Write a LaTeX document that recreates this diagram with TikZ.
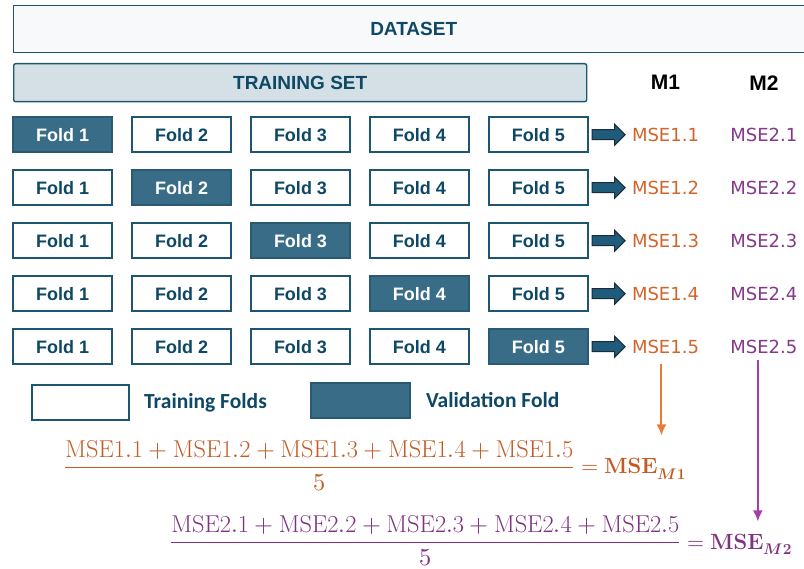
\documentclass[tikz,border=0pt]{standalone}
\usepackage{unicode-math}
\usetikzlibrary{positioning,shapes.arrows,arrows.meta}

\newfontfamily\boxfont{Liberation Sans}
\newfontfamily\legendfont{Carlito}
\newfontfamily\msefont{DejaVu Sans}

\definecolor{foldline}{HTML}{1E5672}
\definecolor{foldtext}{HTML}{0E4865}
\definecolor{valfill}{HTML}{396D87}
\definecolor{valline}{HTML}{2A5A73}
\definecolor{tsfill}{HTML}{D4E0E6}
\definecolor{dsfill}{HTML}{F8F9FB}
\definecolor{arrowfill}{HTML}{1F5C7B}
\definecolor{arrowline}{HTML}{1B2B38}
\definecolor{mseone}{HTML}{D2642A}
\definecolor{msetwo}{HTML}{86388A}
\definecolor{linkone}{HTML}{EC7A34}
\definecolor{linktwo}{HTML}{A33FA8}
\definecolor{eqone}{HTML}{C45A22}
\definecolor{eqtwo}{HTML}{7E3281}

\tikzstyle{trainfold}=[rectangle,
                        line width=1.6pt,
                        draw=foldline,
                        fill=white,
                        minimum width=99pt,
                        minimum height=35pt,
                        inner sep=0pt,
                        text=foldtext,
                        font=\boxfont\bfseries\fontsize{18}{20}\selectfont]
\tikzstyle{valfold}=[trainfold,
                        draw=valline,
                        fill=valfill,
                        text=white]
\tikzstyle{setbox}=[rectangle,
                        line width=1.4pt,
                        draw=foldline,
                        inner sep=0pt,
                        text=foldtext,
                        font=\boxfont\bfseries\fontsize{19}{21}\selectfont]
\tikzstyle{blockarrow}=[single arrow,
                        line width=1pt,
                        draw=arrowline,
                        fill=arrowfill,
                        minimum height=33pt,
                        minimum width=20pt,
                        single arrow head extend=5.5pt,
                        single arrow head indent=0pt,
                        inner sep=4.5pt]
\tikzstyle{mseA}=[inner sep=0pt, text=mseone,
                        font=\msefont\fontsize{18}{20}\selectfont]
\tikzstyle{mseB}=[inner sep=0pt, text=msetwo,
                        font=\msefont\fontsize{18}{20}\selectfont]
\tikzstyle{header}=[inner sep=0pt,
                        font=\boxfont\bfseries\fontsize{21}{23}\selectfont]
\tikzstyle{legendtext}=[inner sep=0pt, text=foldtext,
                        font=\legendfont\bfseries\fontsize{21.5}{24}\selectfont]
\tikzstyle{equation}=[inner sep=0pt,
                        font=\fontsize{24.4}{29}\selectfont]
\tikzstyle{result}=[inner sep=0pt,
                        font=\fontsize{22}{26}\selectfont]

\begin{document}
\begin{tikzpicture}[x=1pt,y=-1pt,>={Latex[length=11pt,width=10pt]}]
  \useasboundingbox (0,0) rectangle (804,569);

  % Whole data and the training part of it:
  \node (DS) [setbox, fill=dsfill, minimum width=800pt, minimum height=47pt,
              anchor=north west] at (13,5) {DATASET};
  \node (TS) [setbox, fill=tsfill, rounded corners=2pt, minimum width=573pt,
              minimum height=38pt, anchor=north west] at (13,63) {TRAINING SET};

  % The five splits are placed using a matrix:
  \matrix (folds) [row sep=16.4pt, column sep=18.3pt, inner sep=0pt,
                   anchor=north west] at (12.2,116.2) {
        \node (F11) [valfold] {Fold 1};   &
        \node (F12) [trainfold] {Fold 2}; &
        \node (F13) [trainfold] {Fold 3}; &
        \node (F14) [trainfold] {Fold 4}; &
        \node (F15) [trainfold] {Fold 5};
        \\
        \node (F21) [trainfold] {Fold 1}; &
        \node (F22) [valfold] {Fold 2};   &
        \node (F23) [trainfold] {Fold 3}; &
        \node (F24) [trainfold] {Fold 4}; &
        \node (F25) [trainfold] {Fold 5};
        \\
        \node (F31) [trainfold] {Fold 1}; &
        \node (F32) [trainfold] {Fold 2}; &
        \node (F33) [valfold] {Fold 3};   &
        \node (F34) [trainfold] {Fold 4}; &
        \node (F35) [trainfold] {Fold 5};
        \\
        \node (F41) [trainfold] {Fold 1}; &
        \node (F42) [trainfold] {Fold 2}; &
        \node (F43) [trainfold] {Fold 3}; &
        \node (F44) [valfold] {Fold 4};   &
        \node (F45) [trainfold] {Fold 5};
        \\
        \node (F51) [trainfold] {Fold 1}; &
        \node (F52) [trainfold] {Fold 2}; &
        \node (F53) [trainfold] {Fold 3}; &
        \node (F54) [trainfold] {Fold 4}; &
        \node (F55) [valfold] {Fold 5};
        \\
    };

  % Block arrows and the scores of both models:
  \node (A1) [blockarrow, right=3pt of F15] {};
  \node (A2) [blockarrow, right=3pt of F25] {};
  \node (A3) [blockarrow, right=3pt of F35] {};
  \node (A4) [blockarrow, right=3pt of F45] {};
  \node (A5) [blockarrow, right=3pt of F55] {};

  \node (E11) [mseA, right=6pt of A1] {MSE1.1};
  \node (E12) [mseA, right=6pt of A2] {MSE1.2};
  \node (E13) [mseA, right=6pt of A3] {MSE1.3};
  \node (E14) [mseA, right=6pt of A4] {MSE1.4};
  \node (E15) [mseA, right=6pt of A5] {MSE1.5};

  \node (E21) [mseB, right=31pt of E11] {MSE2.1};
  \node (E22) [mseB, right=31pt of E12] {MSE2.2};
  \node (E23) [mseB, right=31pt of E13] {MSE2.3};
  \node (E24) [mseB, right=31pt of E14] {MSE2.4};
  \node (E25) [mseB, right=31pt of E15] {MSE2.5};

  \node (M1) [header] at (E11 |- TS) {M1};
  \node (M2) [header] at (E21 |- TS) {M2};

  % Legend:
  \node (LT) [trainfold, line width=2pt, minimum width=97pt] at (80.5,402.5) {};
  \node (LTtext) [legendtext, right=14pt of LT] {Training Folds};
  \node (LV) [valfold, line width=2pt] at (360.5,400.5) {};
  \node (LVtext) [legendtext, right=15pt of LV] {Validation Fold};

  % Averages of the two models:
  \node (Q1) [equation, text=eqone, anchor=base west] at (64,474)
    {$\dfrac{\mathrm{MSE1.1}+\mathrm{MSE1.2}+\mathrm{MSE1.3}+\mathrm{MSE1.4}+\mathrm{MSE1.5}}{5}$};
  \node (R1) [result, text=eqone, anchor=base west] at (Q1.base east)
    {${}=\mathbf{MSE}_{\symbfit{M}\mathbf{1}}$};
  \node (Q2) [equation, text=eqtwo, anchor=base west] at (170,549)
    {$\dfrac{\mathrm{MSE2.1}+\mathrm{MSE2.2}+\mathrm{MSE2.3}+\mathrm{MSE2.4}+\mathrm{MSE2.5}}{5}$};
  \node (R2) [result, text=eqtwo, anchor=base west] at (Q2.base east)
    {${}=\mathbf{MSE}_{\symbfit{M}\mathbf{2}}$};

  % The scores are now linked to their averages:
  \draw[->, linkone, line width=2pt, shorten <=10pt, shorten >=23pt]
        ([xshift=-4pt]E15.south) -- ([xshift=-4pt]E15.south |- R1.north);
  \draw[->, linktwo, line width=2pt, shorten <=6pt, shorten >=12pt]
        ([xshift=-6pt]E25.south) -- ([xshift=-6pt]E25.south |- R2.north);

\end{tikzpicture}
\end{document}
